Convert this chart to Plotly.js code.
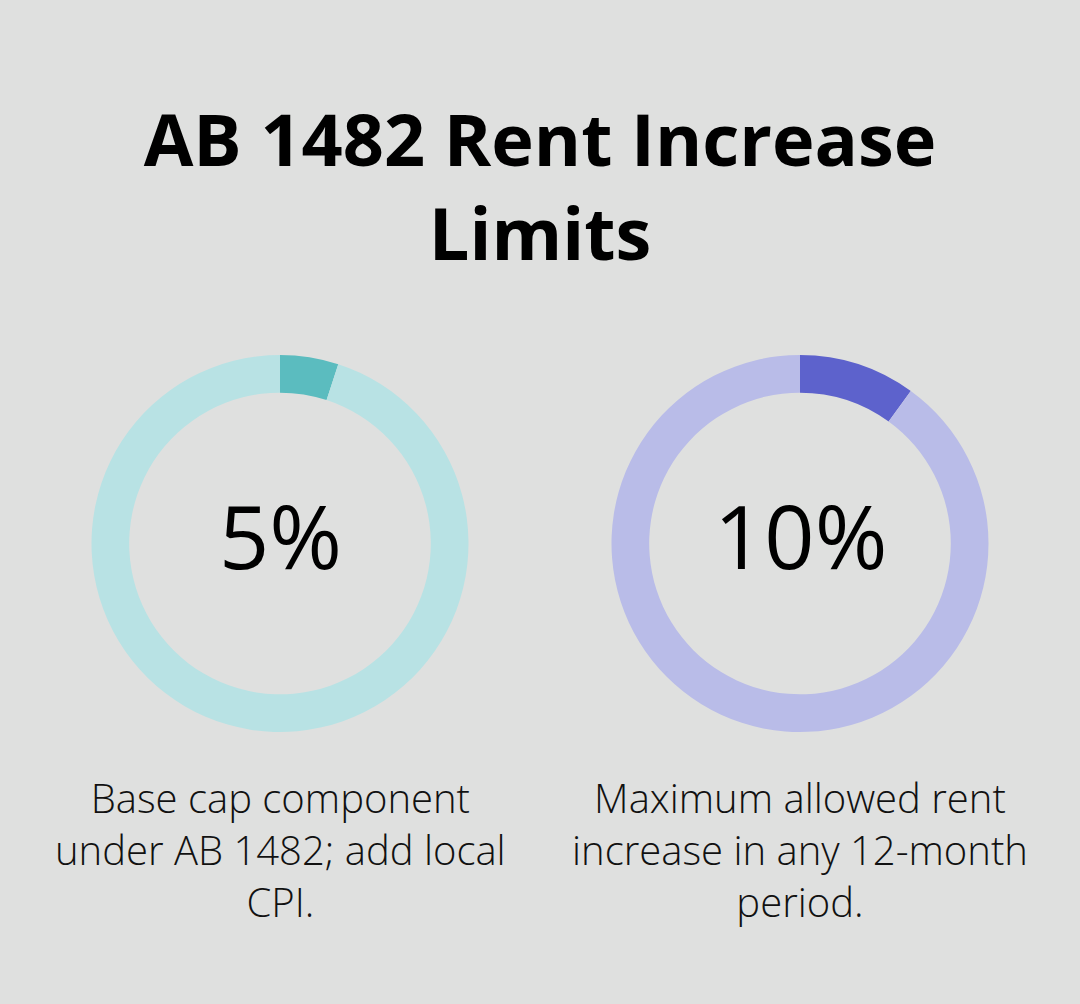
<!DOCTYPE html>
<html>
<head>
<meta charset="utf-8">
<script src="https://cdn.plot.ly/plotly-3.0.1.min.js"></script>
<style>
html,body{margin:0;padding:0;background:#dfe0df;}
#chart{width:1080px;height:1004px;}
</style>
</head>
<body>
<div id="chart"></div>
<script>
const titleText = "AB 1482 Rent Increase<br>Limits";
const labels = ["Share", "Remainder"];
const leftValues = [5, 95];
const rightValues = [10, 90];
const centerLabels = ["5%", "10%"];
const captions = [
  "Base cap component<br>under AB 1482; add local<br>CPI.",
  "Maximum allowed rent<br>increase in any 12-month<br>period."
];
const leftColors = ["#5bbcbf", "#b8e2e4"];
const rightColors = ["#5d62cc", "#b9bce8"];

const W = 1080, H = 1004;
const R = 188.5;
const cy = 543.5;
function dom(cx) {
  return {
    x: [(cx - R) / W, (cx + R) / W],
    y: [(H - cy - R) / H, (H - cy + R) / H]
  };
}

const common = {
  type: "pie",
  labels: labels,
  hole: 0.8,
  sort: false,
  direction: "clockwise",
  rotation: 0,
  textinfo: "none",
  hoverinfo: "skip",
  showlegend: false
};

const traces = [
  Object.assign({}, common, {values: leftValues, domain: dom(280), marker: {colors: leftColors, line: {width: 0}}}),
  Object.assign({}, common, {values: rightValues, domain: dom(800), marker: {colors: rightColors, line: {width: 0}}})
];

const centers = [280, 800];
const annotations = [];
centers.forEach((cx, i) => {
  annotations.push({
    text: centerLabels[i], x: cx / W, y: 1 - 535 / H, xref: "paper", yref: "paper",
    xanchor: "center", yanchor: "middle", showarrow: false,
    font: {family: "Open Sans", size: 88, color: "#000000", weight: 400}
  });
  annotations.push({
    text: captions[i], x: cx / W, y: 1 - 768 / H, xref: "paper", yref: "paper",
    xanchor: "center", yanchor: "top", showarrow: false, align: "center",
    font: {family: "Open Sans", size: 40, color: "#111111", weight: 300}
  });
});

const layout = {
  width: W, height: H,
  margin: {l: 0, r: 0, t: 0, b: 0},
  paper_bgcolor: "#dfe0df",
  plot_bgcolor: "#dfe0df",
  title: {
    text: titleText,
    x: 0.5, xanchor: "center",
    y: 1 - 166 / H, yanchor: "top",
    font: {family: "Open Sans", size: 72, color: "#000000", weight: 700}
  },
  annotations: annotations
};

Plotly.newPlot("chart", traces, layout, {displayModeBar: false, staticPlot: true});
</script>
</body>
</html>
